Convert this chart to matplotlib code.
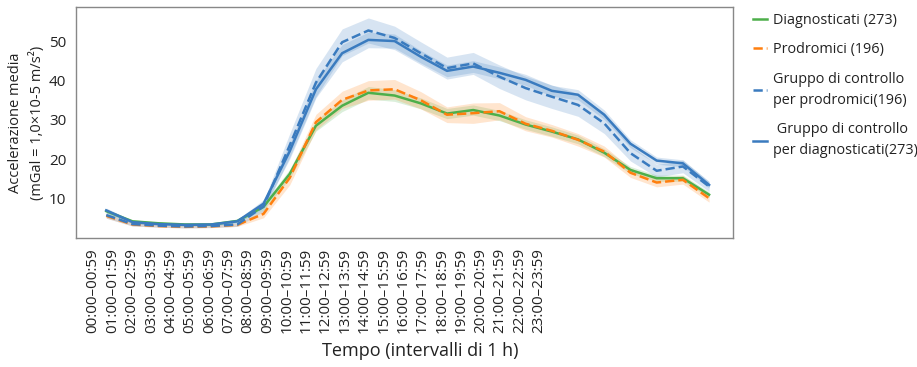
import numpy as np
import matplotlib
matplotlib.use("Agg")
import matplotlib.pyplot as plt

plt.rcParams["font.family"] = ["Open Sans", "DejaVu Sans"]

hours = [f"{h:02d}:00–{h:02d}:59" for h in range(24)]

# mean acceleration per hour (mGal)
diagnosticati = [6.7, 4.1, 3.6, 3.3, 3.3, 4.2, 7.8, 16.2, 28.5, 33.6, 36.9, 36.2, 34.2, 31.6, 32.5, 31.1,
                 28.8, 27.0, 25.0, 21.6, 17.2, 15.1, 15.1, 10.9]
prodromici = [5.5, 3.3, 2.9, 2.7, 2.8, 3.2, 6.0, 15.2, 29.4, 35.1, 37.5, 37.8, 35.0, 31.3, 31.7, 32.2,
              29.0, 27.2, 24.9, 21.9, 16.5, 14.0, 14.7, 10.0]
ctrl_prodromici = [5.7, 3.4, 3.0, 2.8, 2.9, 3.3, 7.9, 23.5, 39.5, 49.8, 52.8, 50.9, 47.0, 43.2, 44.4, 41.0,
                   38.1, 35.9, 33.8, 29.1, 21.5, 17.0, 18.1, 13.0]
ctrl_diagnosticati = [6.9, 3.9, 3.4, 3.2, 3.3, 4.1, 8.6, 22.0, 37.8, 47.0, 50.4, 50.1, 46.1, 42.5, 43.6, 42.0,
                      40.2, 37.4, 36.4, 31.3, 23.9, 19.6, 18.9, 13.4]

# half-width of the shaded confidence bands
ci_diagnosticati = [0.5, 0.4, 0.3, 0.3, 0.3, 0.4, 0.8, 1.2, 1.4, 1.5, 1.6, 1.5, 1.4, 1.3, 1.3, 1.3,
                    1.2, 1.2, 1.1, 1.0, 0.9, 0.8, 0.8, 0.7]
ci_prodromici = [0.6, 0.4, 0.3, 0.3, 0.3, 0.4, 1.0, 1.8, 2.0, 2.2, 2.5, 2.5, 2.2, 2.0, 2.6, 2.2,
                 1.8, 1.6, 1.6, 1.4, 1.2, 1.1, 1.1, 1.0]
ci_ctrl_prodromici = [0.8, 0.5, 0.4, 0.4, 0.4, 0.5, 1.3, 3.0, 3.6, 3.4, 3.2, 3.0, 2.9, 2.8, 2.8, 3.0,
                      3.0, 3.0, 2.9, 2.6, 2.0, 1.6, 1.6, 1.3]
ci_ctrl_diagnosticati = [0.6, 0.4, 0.3, 0.3, 0.3, 0.4, 1.0, 2.0, 2.2, 2.2, 2.0, 1.8, 1.6, 1.5, 1.5, 1.5,
                         1.4, 1.4, 1.3, 1.2, 1.0, 0.9, 0.9, 0.8]

GREEN = "#4daf4a"
ORANGE = "#ff7f0e"
BLUE = "#3a7bbf"

series = [
    ("Diagnosticati (273)", diagnosticati, ci_diagnosticati, GREEN, "-"),
    ("Prodromici (196)", prodromici, ci_prodromici, ORANGE, "--"),
    ("Gruppo di controllo\nper prodromici(196)", ctrl_prodromici, ci_ctrl_prodromici, BLUE, "--"),
    (" Gruppo di controllo\nper diagnosticati(273)", ctrl_diagnosticati, ci_ctrl_diagnosticati, BLUE, "-"),
]

fig = plt.figure(figsize=(9.17, 3.67), dpi=100)
ax = fig.add_axes([0.083, 0.351, 0.716, 0.630])
x = np.arange(len(hours))
for label, m, ci, col, ls in series:
    m = np.array(m); ci = np.array(ci)
    ax.fill_between(x, m - ci, m + ci, color=col, alpha=0.2, lw=0)
    ax.plot(x, m, color=col, ls=ls, lw=1.8, label=label)

ax.set_xlim(-1.15, 23.9)
ax.set_ylim(-0.2, 58.8)
ax.set_yticks([10, 20, 30, 40, 50])
# tick labels sit compressed to the left, as in the original figure
ax.set_xticks(np.linspace(-0.5, 16.5, len(hours)))
ax.set_xticklabels(hours, rotation=90, fontsize=11, color="#222222")
ax.tick_params(axis="y", labelsize=11)
ax.tick_params(axis="both", length=0, pad=7, colors="#222222")
for s in ax.spines.values():
    s.set_color("#888888"); s.set_linewidth(1.0)

ax.set_ylabel("Accelerazione media\n(mGal = 1,0×10-5 m/s²)", fontsize=10.5, color="#222222",
              linespacing=1.45)
ax.yaxis.set_label_coords(-0.048, 0.5)
ax.set_xlabel("Tempo (intervalli di 1 h)", fontsize=13, color="#222222")
ax.xaxis.set_label_coords(0.524, -0.45)

leg = ax.legend(loc="upper left", bbox_to_anchor=(1.022, 1.0), frameon=False, fontsize=10.4,
                handlelength=0.95, handletextpad=0.45, labelspacing=1.0, borderaxespad=0)
for t in leg.get_texts():
    t.set_linespacing(1.55)
    t.set_color("#222222")

fig.savefig("out.png", dpi=100)
